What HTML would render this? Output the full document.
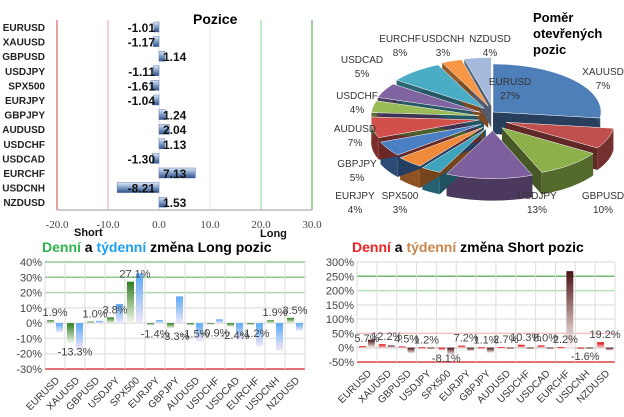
<!DOCTYPE html>
<html><head><meta charset="utf-8"><style>
body{margin:0;background:#fff;width:624px;height:417px;overflow:hidden;font-family:"Liberation Sans",sans-serif}
svg{position:absolute;left:0;top:0}
</style></head><body>
<svg id="s" width="624" height="417" xmlns="http://www.w3.org/2000/svg">
<defs>
<linearGradient id="gb" x1="0" y1="0" x2="0" y2="1"><stop offset="0" stop-color="#dfe8f5"/><stop offset="0.5" stop-color="#7f9cc8"/><stop offset="1" stop-color="#2f4f85"/></linearGradient>
<linearGradient id="gg" x1="0" y1="0" x2="0" y2="1"><stop offset="0" stop-color="#2e7d1f"/><stop offset="1" stop-color="#f4f9ee"/></linearGradient>
<linearGradient id="gbl" x1="0" y1="0" x2="0" y2="1"><stop offset="0" stop-color="#5aa9f5"/><stop offset="1" stop-color="#f0e8f8"/></linearGradient>
<linearGradient id="gr" x1="0" y1="0" x2="0" y2="1"><stop offset="0" stop-color="#e00000"/><stop offset="1" stop-color="#f8d0d0"/></linearGradient>
<linearGradient id="gbr" x1="0" y1="0" x2="0" y2="1"><stop offset="0" stop-color="#4a1010"/><stop offset="1" stop-color="#fff4f4"/></linearGradient>
</defs>
<g id="pos"></g>
<g id="pie"><g id="pieSides"></g><g id="pieTops"></g></g>
<g id="lg"></g>
<g id="sh"></g>
</svg>
<script>
const posCats=["EURUSD","XAUUSD","GBPUSD","USDJPY","SPX500","EURJPY","GBPJPY","AUDUSD","USDCHF","USDCAD","EURCHF","USDCNH","NZDUSD"];
const posVals=[-1.01,-1.17,1.14,-1.11,-1.61,-1.04,1.24,2.04,1.13,-1.30,7.13,-8.21,1.53];
const posTicks=[-20,-10,0,10,20,30];
const pieCats=["EURUSD","XAUUSD","GBPUSD","USDJPY","SPX500","EURJPY","GBPJPY","AUDUSD","USDCHF","USDCAD","EURCHF","USDCNH","NZDUSD"];
const pieVals=[27,7,10,13,3,4,5,7,4,5,8,3,4];
const longDaily=[1.9,-13.3,1.0,3.8,27.1,-1.4,-3.3,-1.5,-0.9,-2.4,-1.2,1.9,3.5];
const longWeekly=[-6,-17.5,1.5,12.5,32.5,2,17.5,-12,2.5,-11,-15,-18,-5];
const longTicks=[40,30,20,10,0,-10,-20,-30];
const shortDaily=[5.7,12.2,4.5,1.2,-8.1,7.2,1.1,2.7,10.3,8.0,2.2,-1.6,19.2];
const shortWeekly=[28,8,-20,0,-25,-12,-18,-5,0,0,268,-2,-10];
const shortTicks=[300,250,200,150,100,50,0,-50];
const NS="http://www.w3.org/2000/svg";
function mk(p,t,a,txt){const e=document.createElementNS(NS,t);for(const k in a)e.setAttribute(k,a[k]);if(txt!==undefined)e.textContent=txt;p.appendChild(e);return e;}
(function(){
const g=document.getElementById('pos');
const x=v=>159+(v)*5.1, y=i=>27+i*14.6;
const lc={"-20":"#d84040","-10":"#f0a0a0","0":"#e0e0e0","10":"#e0e8e0","20":"#8fd08f","30":"#40a040"};
posTicks.forEach(t=>{
const l=mk(g,'line',{x1:x(t),x2:x(t),y1:20,y2:210,stroke:lc[t],'stroke-width':1});

const tx=mk(g,'text',{x:x(t),y:228,'font-size':11,'text-anchor':'middle',fill:'#444','font-family':'Liberation Serif, serif'},t.toFixed(1));

});
mk(g,'line',{x1:57,x2:312,y1:210,y2:210,stroke:'#999'});
posCats.forEach((c,i)=>{
const v=posVals[i];
const lb=mk(g,'text',{x:45,y:y(i)+4,'font-size':10,'font-weight':'bold','text-anchor':'end',fill:'#222'},c);

const b=mk(g,'rect',{x:Math.min(x(0),x(v)),y:y(i)-5,width:Math.abs(x(v)-x(0)),height:10,fill:'url(#gb)',stroke:'#5a7ab0','stroke-width':0.5});

const vt=mk(g,'text',{x:v<0?x(0)-4:x(0)+4,y:y(i)+5,'font-size':12,'font-weight':'bold','text-anchor':v<0?'end':'start',fill:'#111'},v.toFixed(2));

});
const t=mk(g,'text',{x:193,y:24,'font-size':14,'font-weight':'bold',fill:'#000'},'Pozice');

const s=mk(g,'text',{x:74,y:236,'font-size':11,'font-weight':'bold',fill:'#111'},'Short');

const lo=mk(g,'text',{x:260,y:237,'font-size':11,'font-weight':'bold',fill:'#111'},'Long');

})();
(function(){
const g=document.getElementById('pie'),gs=document.getElementById('pieSides'),gt=document.getElementById('pieTops');
const cx=493,cy=112,rx=108,ry=48,dep=22;
const cols=["#4f7fb8","#c0504d","#8db04a","#7d5f9e","#3ea3bd","#ef8a3a","#4a7fc4","#d34f4c","#9bbb59","#8064a2","#4bacc6","#f79646","#a5b9dd"];
const tot=pieVals.reduce((a,b)=>a+b,0);
let a0=-Math.PI/2;const sl=[];
pieVals.forEach((v,i)=>{const a1=a0+v/tot*2*Math.PI;sl.push([a0,a1]);a0=a1;});
function dark(c,f){const n=parseInt(c.slice(1),16);const r=(n>>16)*f|0,gg=((n>>8)&255)*f|0,b=(n&255)*f|0;return `rgb(${r},${gg},${b})`;}
sl.forEach(([a,b],i)=>{
const mid=(a+b)/2,ex=i==0?0:14;const ox=cx+Math.cos(mid)*ex,oy=cy+Math.sin(mid)*ex*0.9+(i==0?0:6);
const pt=(t,d)=>[ox+rx*Math.cos(t),oy+ry*Math.sin(t)+d];
const s1=mk(gs,'path',{d:`M${ox},${oy}L${ox},${oy+dep}L${pt(a,dep)}L${pt(a,0)}Z M${ox},${oy}L${ox},${oy+dep}L${pt(b,dep)}L${pt(b,0)}Z`,fill:dark(cols[i],0.5)});

let side='';const N=24;
for(let k=0;k<=N;k++){const t=a+(b-a)*k/N;const p=pt(t,0);side+=(k?'L':'M')+p[0]+','+p[1];}
for(let k=N;k>=0;k--){const t=a+(b-a)*k/N;const p=pt(t,dep);side+='L'+p[0]+','+p[1];}
const sd=mk(gs,'path',{d:side+'Z',fill:dark(cols[i],0.6)});

let top=`M${ox},${oy}`;for(let k=0;k<=N;k++){const t=a+(b-a)*k/N;top+='L'+pt(t,0);}
const tp=mk(gt,'path',{d:top+'Z',fill:cols[i],stroke:'#fff','stroke-width':0.5});

});
const pl=[[510,85],[603,75],[603,199],[537,199],[400,199],[355,199],[357,167],[355,132],[357,99],[362,63],[400,42],[443,42],[490,42]];
pl.forEach((p,i)=>{
const t1=mk(g,'text',{x:p[0],y:p[1],'font-size':10,'text-anchor':'middle',fill:'#333'},pieCats[i]);

const t2=mk(g,'text',{x:p[0],y:p[1]+14,'font-size':10,'text-anchor':'middle',fill:'#333'},pieVals[i]+'%');

});
['Poměr','otevřených','pozic'].forEach((w,i)=>{const t=mk(g,'text',{x:533,y:22+i*16,'font-size':13,'font-weight':'bold',fill:'#000'},w);
});
})();
function change(id,x0,x1,yTop,yBot,ticks,d,w,fd,fw,gridCols,titleParts){
const g=document.getElementById(id);
const tmax=ticks[0],tmin=ticks[ticks.length-1];
const y=v=>yTop+(tmax-v)/(tmax-tmin)*(yBot-yTop);
const cw=(x1-x0)/d.length;
ticks.forEach((t,i)=>{
const l=mk(g,'line',{x1:x0,x2:x1,y1:y(t),y2:y(t),stroke:gridCols[i],'stroke-width':1.5});

const tx=mk(g,'text',{x:x0-3,y:y(t)+4,'font-size':11,'text-anchor':'end',fill:'#444'},t+'%');

});
for(let i=0;i<=d.length;i++){mk(g,'line',{x1:x0+i*cw,x2:x0+i*cw,y1:yTop,y2:yBot,stroke:'#ddd'});}
posCats.forEach((c,i)=>{
const cx=x0+i*cw;
const b1=mk(g,'rect',{x:cx+2,y:Math.min(y(0),y(d[i])),width:cw/2-3,height:Math.max(1.5,Math.abs(y(d[i])-y(0))),fill:fd});

const b2=mk(g,'rect',{x:cx+cw/2+1,y:Math.min(y(0),y(w[i])),width:cw/2-3,height:Math.max(1.5,Math.abs(y(w[i])-y(0))),fill:fw});

const vy=d[i]>=0?y(d[i])-4:y(d[i])+12;
const vl=mk(g,'text',{x:cx+cw/2,y:vy,'font-size':11,'text-anchor':'middle',fill:'#444'},d[i].toFixed(1)+'%');

const cl=mk(g,'text',{x:cx+cw/2+5,y:yBot+12,'font-size':10,'text-anchor':'end',fill:'#333',transform:`rotate(-45 ${cx+cw/2+5} ${yBot+12})`},c);

});
const t=mk(g,'text',{x:titleParts.x,y:titleParts.y,'font-size':14,'font-weight':'bold'});

titleParts.parts.forEach(p=>{mk(t,'tspan',{fill:p[1]},p[0]);});
}
change('lg',45,305,262,369,longTicks,longDaily,longWeekly,'url(#gg)','url(#gbl)',['#90c890','#90c890','#b0d8b0','#e6e6e6','#e0e0e0','#e6e6e6','#e6e6e6','#d84040'],{x:42,y:252,parts:[['Denní','#2fb34a'],[' a ','#000'],['týdenní','#1ea0f0'],[' změna Long pozic','#000']]});
change('sh',357,615,262,362,shortTicks,shortDaily,shortWeekly,'url(#gr)','url(#gbr)',['#e6e6e6','#70b870','#b8e0b8','#e6e6e6','#e6e6e6','#f4c0c0','#d0d0d0','#d84040'],{x:352,y:252,parts:[['Denní','#f02020'],[' a ','#000'],['týdenní','#c8864a'],[' změna Short pozic','#000']]});
</script>
</body></html>
